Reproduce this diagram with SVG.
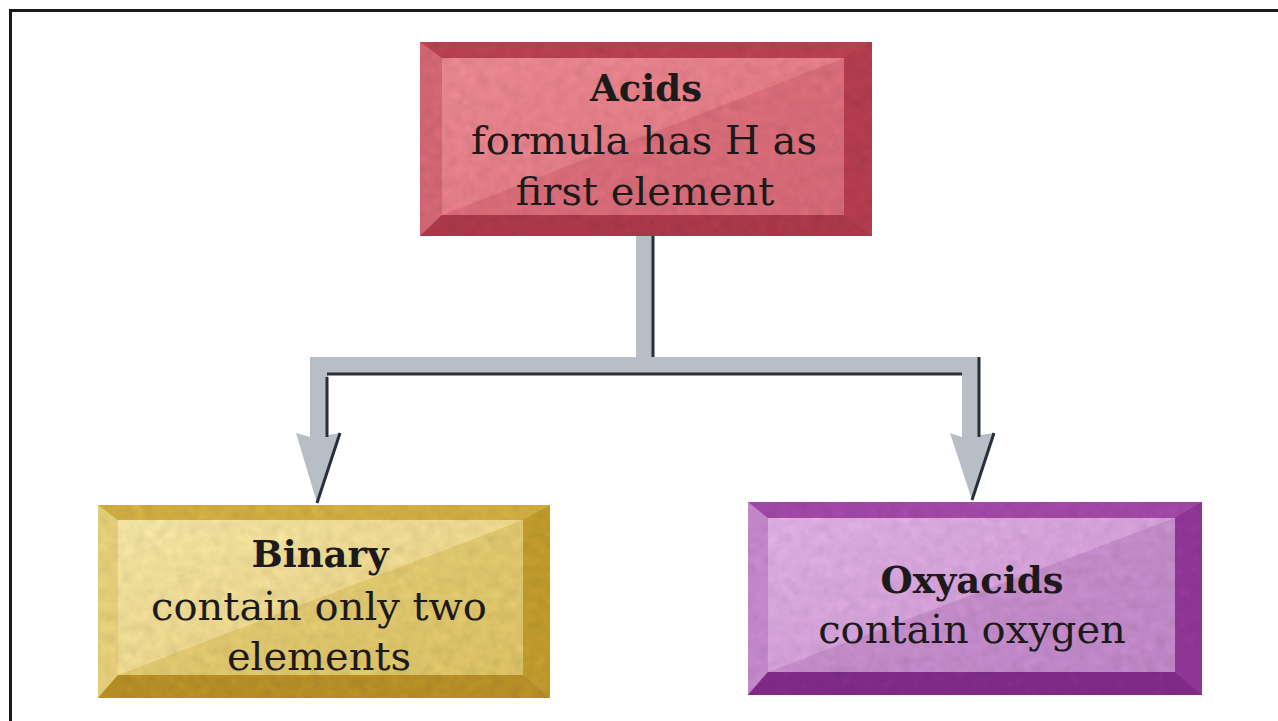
<svg xmlns="http://www.w3.org/2000/svg" width="1278" height="721" viewBox="0 0 1278 721">
<style>
.t{font-family:"DejaVu Serif","Liberation Serif",serif;fill:#1c1a1a;text-anchor:middle}
.r{font-size:40px}
.b{font-size:37px;font-weight:bold}
.arrow{fill:#b7bec6}
.shade{stroke:#27303a;stroke-width:3;fill:none}
</style>
<defs>
<linearGradient id="gA" x1="0" y1="0" x2="1" y2="1"><stop offset="0" stop-color="#e6868e"/><stop offset="1" stop-color="#d9707c"/></linearGradient>
<linearGradient id="gB" x1="0" y1="0" x2="1" y2="1"><stop offset="0" stop-color="#f0e1a2"/><stop offset="1" stop-color="#e0c774"/></linearGradient>
<linearGradient id="gO" x1="0" y1="0" x2="1" y2="1"><stop offset="0" stop-color="#dbadde"/><stop offset="1" stop-color="#c690cc"/></linearGradient>
<filter id="tex" x="0" y="0" width="1" height="1">
<feTurbulence type="fractalNoise" baseFrequency="0.09" numOctaves="3" seed="4" result="n"/>
<feColorMatrix in="n" type="matrix" values="0.33 0.33 0.33 0 0  0.33 0.33 0.33 0 0  0.33 0.33 0.33 0 0  0 0 0 0 1" result="g"/>
<feComposite in="SourceGraphic" in2="g" operator="arithmetic" k1="0.45" k2="0.78" k3="0" k4="0"/>
</filter>
</defs>
<rect x="0" y="0" width="1278" height="721" fill="#ffffff"/>
<path d="M10.5 721 V10.5 H1278" fill="none" stroke="#1a1a1a" stroke-width="3"/>

<g id="connectors">
<path class="arrow" d="M636 236 H654 V357 H980 V435 L994 433 L972 500 L950 433 L962 437 V375 H328 V435 L340 433 L317 503 L296 433 L310 437 V357 H636 Z"/>
<path class="shade" d="M653 236 V357"/>
<path class="shade" d="M327 377 V437 M327 374 H962"/>
<path class="shade" d="M979 357 V437"/>
<path class="shade" d="M340 433 L317 503"/>
<path class="shade" d="M994 433 L972 500"/>
</g>

<g id="acids">
<g filter="url(#tex)">
<rect x="420" y="42" width="452" height="194" fill="#b8404f"/>
<polygon points="420,42 872,42 844,58 442,58" fill="#b5404f"/>
<polygon points="420,42 442,58 442,215 420,236" fill="#cf6571"/>
<polygon points="872,42 872,236 844,215 844,58" fill="#b03c4e"/>
<polygon points="420,236 872,236 844,215 442,215" fill="#a9374a"/>
<rect x="442" y="58" width="402" height="157" fill="url(#gA)"/>
<polygon points="844,58 844,215 442,215" fill="#cc5e6d" opacity="0.55"/>
</g>
<text class="t b" x="646" y="101">Acids</text>
<text class="t r" x="644" y="154">formula has H as</text>
<text class="t r" x="645" y="205">first element</text>
</g>

<g id="binary">
<g filter="url(#tex)">
<rect x="98" y="505" width="452" height="193" fill="#c7a235"/>
<polygon points="98,505 550,505 523,520 118,520" fill="#cdab40"/>
<polygon points="98,505 118,520 118,675 98,698" fill="#e2cb78"/>
<polygon points="550,505 550,698 523,675 523,520" fill="#bd982c"/>
<polygon points="98,698 550,698 523,675 118,675" fill="#b48d26"/>
<rect x="118" y="520" width="405" height="155" fill="url(#gB)"/>
<polygon points="523,520 523,675 118,675" fill="#d4b855" opacity="0.55"/>
</g>
<text class="t b" x="320" y="567">Binary</text>
<text class="t r" x="319" y="620">contain only two</text>
<text class="t r" x="319" y="670">elements</text>
</g>

<g id="oxyacids">
<g filter="url(#tex)">
<rect x="748" y="502" width="454" height="193" fill="#9a3e9f"/>
<polygon points="748,502 1202,502 1175,518 768,518" fill="#a046a5"/>
<polygon points="748,502 768,518 768,672 748,695" fill="#c086c6"/>
<polygon points="1202,502 1202,695 1175,672 1175,518" fill="#8e3594"/>
<polygon points="748,695 1202,695 1175,672 768,672" fill="#7e2b86"/>
<rect x="768" y="518" width="407" height="154" fill="url(#gO)"/>
<polygon points="1175,518 1175,672 768,672" fill="#b47abb" opacity="0.55"/>
</g>
<text class="t b" x="972" y="593">Oxyacids</text>
<text class="t r" x="972" y="643">contain oxygen</text>
</g>
</svg>
